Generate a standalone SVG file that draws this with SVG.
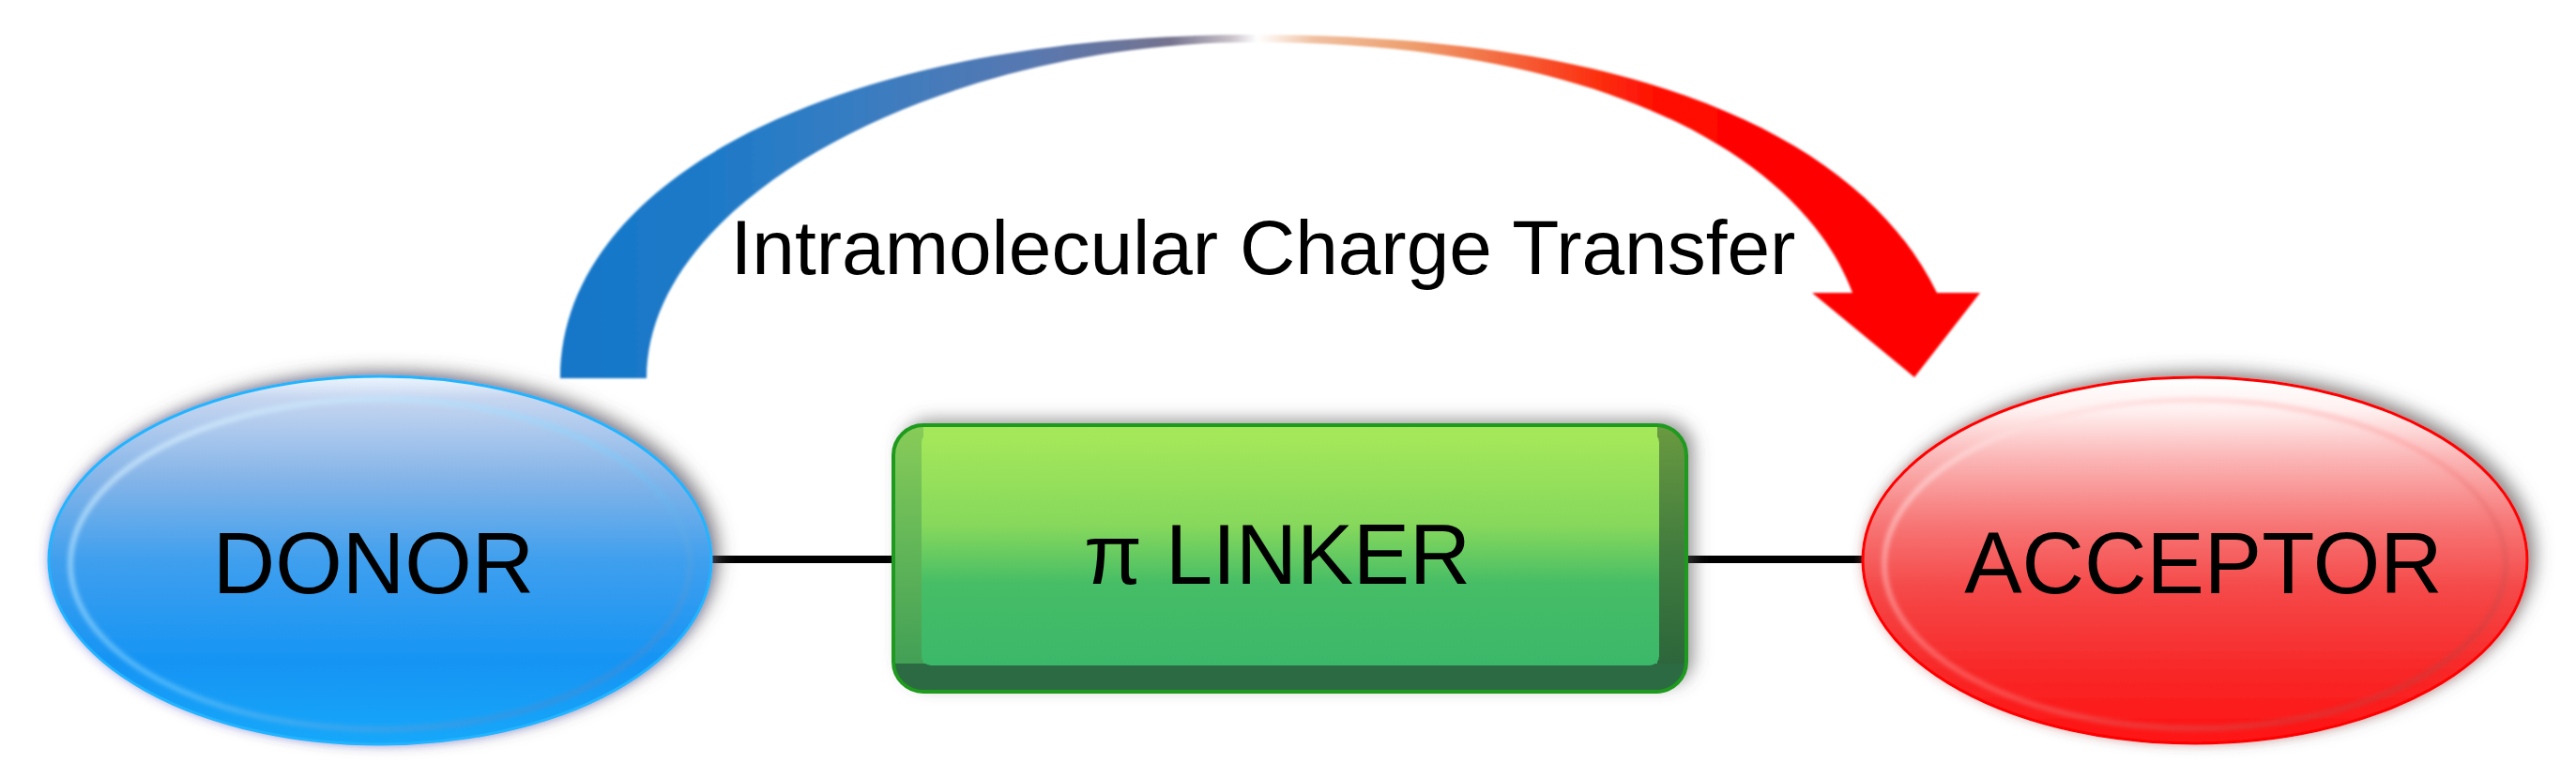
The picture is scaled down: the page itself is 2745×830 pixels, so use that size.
<svg xmlns="http://www.w3.org/2000/svg" width="2745" height="830" viewBox="0 0 2745 830">
<defs>
  <style>
    .lbl{font-family:"Liberation Sans",Arial,sans-serif;fill:#000;text-anchor:middle}
    .conn{stroke:#000;stroke-width:8;fill:none}
  </style>
  <linearGradient id="arcGrad" gradientUnits="userSpaceOnUse" x1="597" y1="0" x2="2110" y2="0">
    <stop offset="0" stop-color="#1577c9"/>
    <stop offset="0.114" stop-color="#1f7ac8"/>
    <stop offset="0.2" stop-color="#357dc3"/>
    <stop offset="0.332" stop-color="#5878b0"/>
    <stop offset="0.43" stop-color="#75738f"/>
    <stop offset="0.472" stop-color="#c8c0c8"/>
    <stop offset="0.491" stop-color="#ffffff"/>
    <stop offset="0.531" stop-color="#f0c0a0"/>
    <stop offset="0.597" stop-color="#eea070"/>
    <stop offset="0.663" stop-color="#f46a40"/>
    <stop offset="0.729" stop-color="#fc3010"/>
    <stop offset="0.782" stop-color="#ff0800"/>
    <stop offset="1" stop-color="#ff0000"/>
  </linearGradient>
  <linearGradient id="donorFill" x1="0" y1="0" x2="0" y2="1">
    <stop offset="0" stop-color="#eef6ff"/>
    <stop offset="0.06" stop-color="#c6d6f0"/>
    <stop offset="0.28" stop-color="#84b4e8"/>
    <stop offset="0.5" stop-color="#3f9fee"/>
    <stop offset="0.78" stop-color="#1594f4"/>
    <stop offset="1" stop-color="#18a8fa"/>
  </linearGradient>
  <linearGradient id="accFill" x1="0" y1="0" x2="0" y2="1">
    <stop offset="0" stop-color="#ffffff"/>
    <stop offset="0.09" stop-color="#fff0f0"/>
    <stop offset="0.22" stop-color="#fbb6b6"/>
    <stop offset="0.4" stop-color="#f77676"/>
    <stop offset="0.58" stop-color="#f54848"/>
    <stop offset="0.8" stop-color="#f82828"/>
    <stop offset="1" stop-color="#ff1212"/>
  </linearGradient>
  <linearGradient id="donorRing" x1="0" y1="0" x2="1" y2="1">
    <stop offset="0" stop-color="#ffffff" stop-opacity="0.8"/>
    <stop offset="0.5" stop-color="#7fd2ff" stop-opacity="0.6"/>
    <stop offset="1" stop-color="#2a6fc0" stop-opacity="0.7"/>
  </linearGradient>
  <linearGradient id="accRing" x1="0" y1="0" x2="1" y2="1">
    <stop offset="0" stop-color="#ffffff" stop-opacity="0.8"/>
    <stop offset="0.5" stop-color="#ff9090" stop-opacity="0.5"/>
    <stop offset="1" stop-color="#b01818" stop-opacity="0.7"/>
  </linearGradient>
  <linearGradient id="faceFill" x1="0" y1="0" x2="0" y2="1">
    <stop offset="0" stop-color="#a6e85a"/>
    <stop offset="0.4" stop-color="#86d85c"/>
    <stop offset="0.65" stop-color="#46bd66"/>
    <stop offset="1" stop-color="#3cb86a"/>
  </linearGradient>
  <linearGradient id="bevelLeft" x1="0" y1="0" x2="0" y2="1">
    <stop offset="0" stop-color="#88cc58"/>
    <stop offset="0.5" stop-color="#5fb458"/>
    <stop offset="1" stop-color="#3a9a55"/>
  </linearGradient>
  <linearGradient id="bevelRight" x1="0" y1="0" x2="0" y2="1">
    <stop offset="0" stop-color="#6a9a40"/>
    <stop offset="0.5" stop-color="#3f7a3e"/>
    <stop offset="1" stop-color="#27613a"/>
  </linearGradient>
  <clipPath id="boxClip"><rect x="952" y="453" width="845" height="284" rx="32"/></clipPath>
  <filter id="shadow" x="-20%" y="-30%" width="140%" height="160%">
    <feDropShadow dx="8" dy="-6" stdDeviation="9" flood-color="#555" flood-opacity="0.6"/>
  </filter>
  <filter id="glow" x="-20%" y="-30%" width="140%" height="160%">
    <feGaussianBlur stdDeviation="6"/>
  </filter>
  <filter id="soft" x="-10%" y="-10%" width="120%" height="120%">
    <feGaussianBlur stdDeviation="2.5"/>
  </filter>
  <filter id="edge" x="-5%" y="-10%" width="110%" height="120%">
    <feGaussianBlur stdDeviation="1.2"/>
  </filter>
</defs>
<rect width="2745" height="830" fill="#fff"/>

<g id="connectors">
  <line class="conn" x1="755" y1="596" x2="955" y2="596"/>
  <line class="conn" x1="1795" y1="596" x2="1990" y2="596"/>
</g>

<g id="arc-arrow">
  <path d="M 597 403 C 597 190.7, 892.2 37, 1335 37 C 1755 37, 1984.8 150, 2064 312 L 2110 312 L 2040 402 L 1931 312 L 1974 312 C 1921.5 171, 1715 45, 1335 45 C 1012 45, 689 206, 689 403 Z" fill="url(#arcGrad)" filter="url(#edge)"/>
  <text class="lbl" x="1346" y="292" font-size="82">Intramolecular Charge Transfer</text>
</g>

<g id="donor">
  <ellipse cx="405" cy="597" rx="353" ry="196" fill="#6a6aff" opacity="0.6" filter="url(#glow)"/>
  <ellipse cx="405" cy="597" rx="353" ry="196" fill="url(#donorFill)" stroke="#22b4ff" stroke-width="3" filter="url(#shadow)"/>
  <ellipse cx="405" cy="601" rx="330" ry="176" fill="none" stroke="url(#donorRing)" stroke-width="5" filter="url(#soft)"/>
  <text class="lbl" x="398" y="632" font-size="92">DONOR</text>
</g>

<g id="linker">
  <rect x="952" y="453" width="845" height="284" rx="32" fill="#3a8a44" filter="url(#shadow)"/>
  <g clip-path="url(#boxClip)">
    <rect x="952" y="453" width="845" height="284" fill="url(#faceFill)"/>
    <rect x="952" y="453" width="32" height="284" fill="url(#bevelLeft)"/>
    <rect x="1766" y="453" width="31" height="284" fill="url(#bevelRight)"/>
    <rect x="952" y="707" width="845" height="30" fill="#2b6a42"/>
    <rect x="982" y="461" width="786" height="248" rx="10" fill="url(#faceFill)"/>
  </g>
  <rect x="952" y="453" width="845" height="284" rx="32" fill="none" stroke="#1e9a1e" stroke-width="4"/>
  <text class="lbl" x="1361" y="622" font-size="90">π LINKER</text>
</g>

<g id="acceptor">
  <ellipse cx="2339" cy="597" rx="354" ry="195" fill="#ff6060" opacity="0.45" filter="url(#glow)"/>
  <ellipse cx="2339" cy="597" rx="354" ry="195" fill="url(#accFill)" stroke="#ff0000" stroke-width="3" filter="url(#shadow)"/>
  <ellipse cx="2339" cy="601" rx="331" ry="175" fill="none" stroke="url(#accRing)" stroke-width="5" filter="url(#soft)"/>
  <text class="lbl" x="2348" y="632" font-size="92">ACCEPTOR</text>
</g>
</svg>
